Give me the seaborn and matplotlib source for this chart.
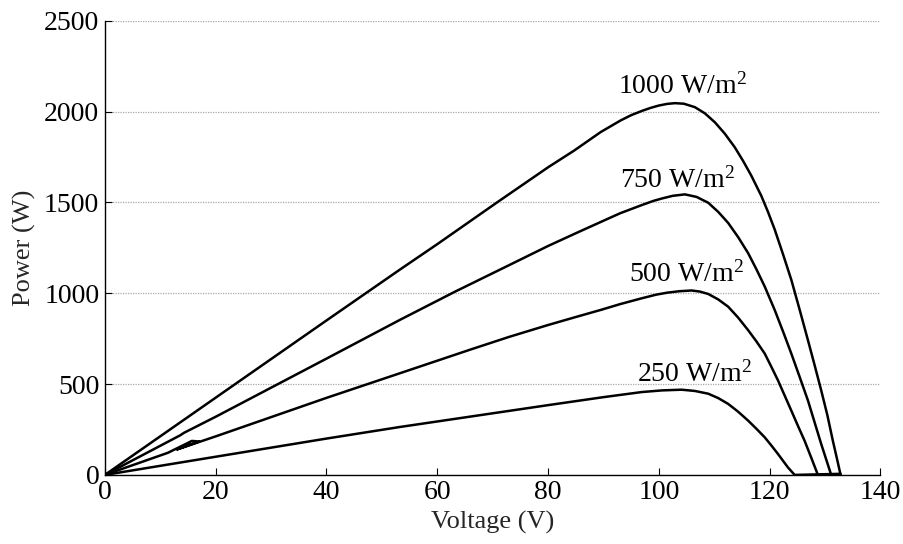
import numpy as np
import pandas as pd
import matplotlib
matplotlib.use("Agg")
import matplotlib.pyplot as plt
import seaborn as sns

# P-V curves, one pair of lists per irradiance
v_1000 = [0, 20, 40, 53.3, 60, 70.8, 80, 84.7, 89.5, 93.1, 95, 96.9, 98.5, 100,
          101.5, 102.9, 104.5, 106.5, 108.3, 110.1, 111.9, 113.7, 115.2, 116.7,
          118.5, 119.7, 120.9, 122.4, 123.9, 125.4, 126.9, 128.1, 129.3, 130.4,
          131.4, 132.1, 132.8]
p_1000 = [0, 425, 850, 1131, 1270, 1500, 1693, 1785, 1887, 1951, 1980, 2003, 2020, 2033,
          2042, 2046, 2043, 2024, 1990, 1941, 1878, 1803, 1728, 1646,
          1535, 1447, 1351, 1215, 1074, 910, 742, 605, 465, 330,
          188, 95, 0]

v_750 = [0, 13.6, 14.3, 20, 40, 53.3, 63.3, 72, 80, 85, 89.5, 93, 96.9, 99, 100.5,
         102.5, 104.7, 106.8, 108.9, 110.7, 112.5, 114.3, 116.1, 117.6, 119.1, 120.9,
         122.4, 123.9, 125.4, 126.9, 128.1, 129.3, 130.2, 131.1]
p_750 = [0, 218, 232, 320, 640, 854, 1010, 1140, 1260, 1330, 1392, 1440, 1485, 1508, 1521,
         1536, 1544, 1530, 1498, 1448, 1387, 1309, 1221, 1132, 1037, 908,
         790, 668, 540, 410, 290, 170, 85, 0]

v_500 = [0, 11.4, 15.7, 17.0, 13.0, 20, 40, 53.3, 66, 73, 80, 85, 89.5, 93, 96.9,
         99.5, 101.5, 103.7, 105.9, 107.4, 108.9, 110.7, 112.5, 114.3, 116.1, 117.6,
         119.1, 120.3, 121.5, 122.7, 123.9, 125.1, 126.3, 127.5, 128.7]
p_500 = [0, 122, 187, 184, 140, 212, 424, 560, 690, 760, 825, 869, 908, 940, 972,
         992, 1003, 1011, 1015, 1009, 996, 966, 926, 866, 797, 735,
         668, 595, 520, 437, 354, 270, 188, 95, 0]

v_250 = [0, 20, 40, 53.3, 80, 90, 96.9, 100.5, 104.1, 106.5, 108.9, 110.7, 112.5,
         114.3, 116.1, 117.6, 119.1, 120.3, 121.5, 122.4, 123.3, 124.5, 128.7, 132.8]
p_250 = [0, 100, 200, 264, 384, 428, 456, 465, 469, 462, 447, 423, 391,
         348, 299, 254, 207, 162, 115, 78, 41, 0, 3, 6]

labels = ["1000 W/m$^2$", "750 W/m$^2$", "500 W/m$^2$", "250 W/m$^2$"]
label_v = [104.2, 103.4, 104.9, 106.4]
label_p = [2100, 1582, 1062, 511]

x_ticks = [0, 20, 40, 60, 80, 100, 120, 140]
y_ticks = [0, 500, 1000, 1500, 2000, 2500]

sns.set_theme(style="white")
plt.rcParams["font.family"] = ["Liberation Serif", "DejaVu Serif"]
plt.rcParams["mathtext.fontset"] = "custom"
plt.rcParams["mathtext.rm"] = "Liberation Serif"
plt.rcParams["mathtext.it"] = "Liberation Serif:italic"

fig = plt.figure(figsize=(9.04, 5.44), dpi=100)
fig.subplots_adjust(left=0.116, right=0.974, top=0.962, bottom=0.127)
ax = fig.add_subplot(111)

curves = [(v_1000, p_1000), (v_750, p_750), (v_500, p_500), (v_250, p_250)]
for v, p in curves:
    df = pd.DataFrame({"v": v, "p": p})
    sns.lineplot(data=df, x="v", y="p", sort=False, estimator=None,
                 color="black", linewidth=1.8, ax=ax)

for txt, xv, yv in zip(labels, label_v, label_p):
    ax.text(xv, yv, txt, ha="center", va="baseline", fontsize=20, color="black")

ax.set_xlim(0, 140)
ax.set_ylim(0, 2500)
ax.set_xticks(x_ticks)
ax.set_yticks(y_ticks)
ax.set_xlabel("Voltage (V)", fontsize=19, labelpad=4)
ax.set_ylabel("Power (W)", fontsize=19, labelpad=6)

ax.yaxis.grid(True, color="#a8a8a8", linestyle=(0, (1, 1)), linewidth=0.9)
ax.xaxis.grid(False)
ax.tick_params(direction="in", length=5, width=0.8, colors="black",
               labelsize=20, pad=4, left=True, bottom=True)

for side in ["top", "right"]:
    ax.spines[side].set_visible(False)
for side in ["left", "bottom"]:
    ax.spines[side].set_color("black")
    ax.spines[side].set_linewidth(1.0)

fig.savefig("out.png", dpi=100)
